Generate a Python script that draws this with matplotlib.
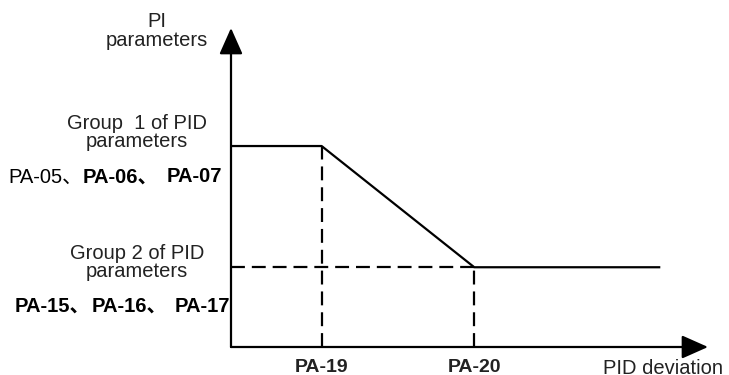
import matplotlib
matplotlib.use("Agg")
import matplotlib.pyplot as plt

# PI parameters vs PID deviation (schematic)
pid_deviation = [0, 19, 51, 90]
pi_parameters = [63, 63, 25, 25]
switch_points = [19, 51]
switch_labels = ["PA-19", "PA-20"]
group1_level = 63
group2_level = 25

plt.rcParams["font.family"] = ["Liberation Sans", "Noto Sans CJK SC", "DejaVu Sans"]
plt.rcParams["lines.scale_dashes"] = False

W, H = 729, 375
fig = plt.figure(figsize=(W / 100, H / 100), dpi=100)

# axes box spans from the origin to the arrow tips
x0, y0, x1, y1 = 231, 347, 708, 28
ax = fig.add_axes([x0 / W, 1 - y0 / H, (x1 - x0) / W, (y0 - y1) / H])
ax.set_xlim(0, 100)
ax.set_ylim(0, 100)
ax.axis("off")

lw = 1.6
dash = (10, 5)

# main curve
ax.plot(pid_deviation, pi_parameters, color="black", lw=lw, solid_capstyle="butt")

# dashed helpers
ax.plot([0, switch_points[1]], [group2_level, group2_level], color="black", lw=lw, dashes=dash)
ax.plot([switch_points[0], switch_points[0]], [0, group1_level], color="black", lw=lw, dashes=dash)
ax.plot([switch_points[1], switch_points[1]], [0, group2_level], color="black", lw=lw, dashes=dash)

# axes with arrow heads
arrow = dict(arrowstyle="-|>,head_length=0.9,head_width=0.4", lw=lw, color="black",
             shrinkA=0, shrinkB=0, mutation_scale=18)
ax.annotate("", xy=(100, 0), xytext=(0, 0), arrowprops=arrow, annotation_clip=False)
ax.annotate("", xy=(0, 100), xytext=(0, 0), arrowprops=arrow, annotation_clip=False)

fs = 14.5
txt = "#222222"


def px(x, y):
    return x / W, 1 - y / H


# x tick labels, placed just under the axis
for xv, lab in zip(switch_points, switch_labels):
    ax.text(xv, -(367 - y0) / (y0 - y1) * 100, lab, ha="center", va="center",
            fontsize=14, fontweight="bold", color=txt, clip_on=False)

fig.text(*px(723, 368), "PID deviation", ha="right", va="center", fontsize=fs, color=txt)
fig.text(*px(157, 31), "PI\nparameters", ha="center", va="center",
         fontsize=fs, color=txt, linespacing=0.95, multialignment="center")

fig.text(*px(137, 132.5), "Group  1 of PID\nparameters", ha="center", va="center",
         fontsize=fs, color=txt, linespacing=0.95, multialignment="center")
fig.text(*px(137, 262.5), "Group 2 of PID\nparameters", ha="center", va="center",
         fontsize=fs, color=txt, linespacing=0.95, multialignment="center")

fig.text(*px(8, 177), "PA-05、", ha="left", va="center", fontsize=fs, color="black")
fig.text(*px(83, 177), "PA-06、", ha="left", va="center", fontsize=fs,
         fontweight="bold", color="black")
fig.text(*px(222, 177), "PA-07", ha="right", va="center", fontsize=fs,
         fontweight="bold", color="black")
fig.text(*px(15, 306), "PA-15、", ha="left", va="center", fontsize=fs,
         fontweight="bold", color="black")
fig.text(*px(92, 306), "PA-16、", ha="left", va="center", fontsize=fs,
         fontweight="bold", color="black")
fig.text(*px(230, 306), "PA-17", ha="right", va="center", fontsize=fs,
         fontweight="bold", color="black")

fig.savefig("out.png", dpi=100, facecolor="white")
